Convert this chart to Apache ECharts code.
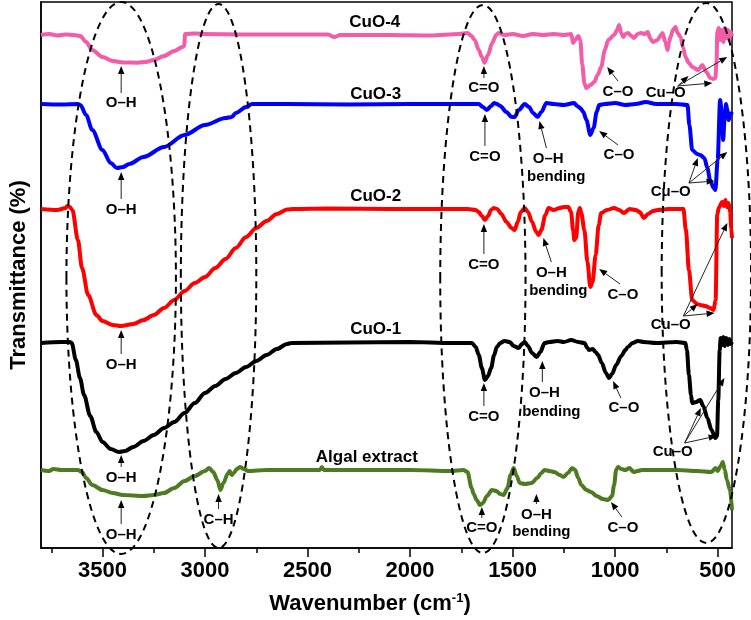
<!DOCTYPE html>
<html>
<head>
<meta charset="utf-8">
<script src="https://cdn.jsdelivr.net/npm/echarts@6/dist/echarts.min.js"></script>
<style>
html, body { margin: 0; padding: 0; background: #fff; }
#ftirChart { width: 751px; height: 620px; }
</style>
</head>
<body>
<div id="ftirChart"></div>
<script>
var FONT = '"Liberation Sans", Arial, Helvetica, sans-serif';

// tick positions (cm-1)
var majorTicks = [500, 1000, 1500, 2000, 2500, 3000, 3500];
var minorTicks = [750, 1250, 1750, 2250, 2750, 3250, 3750];

// spectra: [wavenumber, transmittance (arbitrary, stacked)]
var cuo4 = [[3800,513],[3760,514],[3720,512.5],[3680,513.5],[3640,513],[3608,512],[3580,506],[3550,498],[3500,491],[3450,487],[3400,485.5],[3330,485.3],[3290,486],[3250,488],[3200,492],[3150,497],[3110,501],[3102,502],[3097,514],[3050,514.5],[3000,514],[2800,513.5],[2600,513.5],[2400,513.5],[2370,511],[2340,513],[2100,513],[1900,512.5],[1760,514],[1720,515],
  [1700,512],[1685,508],[1665,498],[1650,491],[1637,485.3],[1620,493],[1600,505],[1580,513],[1569,515],[1540,513],[1500,514],[1450,512],[1400,514],[1350,513],[1300,514],[1250,513],[1214,514],[1205,505],[1195,508],[1180,512],[1170,508],[1160,483],[1150,465],[1141,460],[1120,463],[1102,466],[1085,473],[1068,481],[1050,498],[1034,508],[1005,513],[990,518],[981,523],[970,515],[961,511],[950,514],[938,515],[920,512],[909,510],[890,514],[875,515],[855,514],[841,516],[830,510],[817,506],[805,507],[793,508],[780,512],[769,515],[755,506],[744,498],[737,506],[730,511],[718,518],[706,521],[695,515],[681,511],[668,500],[657,491],[640,485],[624,481],[594,478],[575,483],[555,476],[536,470],[520,469],[511,470],[505,488],[502,515],[495,520],[488,508],[480,518],[472,506],[465,520],[458,510],[450,518],[443,508],[436,516],[430,512]];

var cuo3 = [[3800,444],[3700,443.5],[3620,444],[3608,443],[3580,433],[3550,418],[3500,398],[3460,385],[3430,380],[3400,381],[3370,384],[3300,391],[3200,401],[3100,413],[3000,423],[2900,430],[2870,431],[2850,435],[2800,441],[2770,444],[2600,444],[2300,443.5],[2000,444],[1720,444],
  [1665,444],[1645,441],[1626,438],[1605,442],[1590,445],[1577,444],[1560,442],[1530,436],[1505,431],[1490,431],[1470,438],[1441,444],[1420,441],[1400,435],[1378,431],[1360,436],[1335,445],[1300,444],[1250,443],[1200,445],[1185,442],[1170,440],[1155,436],[1140,428],[1121,413],[1105,420],[1090,436],[1078,443],[1050,444],[1000,445],[950,443],[900,444],[850,446],[800,444],[700,444],[647,443],[638,423],[624,398],[600,394],[585,393],[565,390],[550,380],[537,368],[520,360],[511,358],[500,388],[488,448],[480,436],[473,408],[466,430],[459,444],[453,438],[446,428],[439,433],[430,436]];

var cuo2 = [[3800,339],[3720,338],[3680,340],[3672,342],[3660,341],[3647,338],[3620,308],[3600,280],[3570,253],[3530,233],[3500,227],[3450,223],[3410,222],[3350,224],[3300,228],[3250,233],[3200,240],[3150,248],[3100,257],[3050,265],[3000,271],[2950,280],[2900,289],[2850,300],[2800,311],[2750,320],[2700,327],[2650,334],[2600,338.5],[2570,339],[2400,339.5],[2100,339],[1900,339],[1720,339],
  [1680,338],[1665,336],[1650,332],[1635,328],[1620,332],[1605,338],[1592,340],[1575,339],[1555,334],[1530,326],[1505,320],[1490,318],[1475,326],[1460,336],[1441,340],[1425,336],[1405,326],[1385,316],[1373,313],[1360,318],[1340,333],[1325,340],[1300,338],[1270,340],[1250,341],[1228,341],[1215,336],[1205,318],[1199,308],[1190,310],[1180,336],[1172,340],[1165,335],[1150,318],[1135,286],[1121,261],[1110,266],[1095,293],[1080,323],[1068,335],[1040,338],[1005,340],[980,338],[957,335],[930,339],[900,338],[880,336],[860,330],[840,334],[815,337],[793,338],[740,339],[700,339],[667,339],[655,318],[640,278],[624,248],[600,244],[585,243],[560,242],[537,240],[520,238],[510,248],[502,333],[495,340],[478,346],[470,342],[462,348],[455,341],[447,345],[439,336],[434,320],[430,310]];

var cuo1 = [[3800,205],[3700,206],[3660,206],[3650,205],[3630,188],[3610,170],[3590,153],[3560,132],[3530,116],[3500,106],[3460,99],[3420,96],[3390,97],[3350,101],[3300,107],[3250,113],[3200,120],[3150,126],[3100,135],[3050,145],[3000,155],[2950,162],[2900,169],[2850,175],[2800,181],[2750,187],[2700,193],[2650,199],[2600,204],[2580,205],[2300,205.5],[2000,206],[1800,205],[1720,205],
  [1698,205],[1680,201],[1665,193],[1650,180],[1635,168],[1620,172],[1605,180],[1590,193],[1577,201],[1560,205],[1540,207],[1514,206],[1495,202],[1470,200],[1455,204],[1441,206],[1425,202],[1405,195],[1383,191],[1365,196],[1344,205],[1320,206],[1280,207],[1250,206],[1214,208],[1180,206],[1150,205],[1135,200],[1127,198],[1110,199],[1095,196],[1083,193],[1065,185],[1045,175],[1030,170],[1015,174],[995,183],[970,192],[950,198],[938,201],[915,205],[889,207],[860,206],[800,205],[700,206],[657,205],[650,198],[640,173],[630,153],[624,145],[605,146],[585,148],[570,142],[550,130],[530,118],[511,110],[503,112],[497,148],[490,198],[485,210],[478,203],[472,211],[465,202],[458,210],[450,203],[443,209],[436,204],[430,206]];

var algal = [[3800,78],[3760,77],[3740,79],[3700,78],[3620,78],[3600,76],[3580,70],[3550,63],[3500,58],[3450,55],[3400,53],[3300,52],[3250,53],[3200,55],[3150,60],[3100,67],[3050,72],[3000,77],[2980,80],[2960,76],[2940,68],[2925,58],[2910,65],[2890,74],[2880,77],[2870,73],[2860,75],[2845,79],[2830,81],[2810,79],[2790,77],[2700,78],[2440,78],[2430,81],[2420,78],[2200,78],[2000,78],[1800,77],[1740,78],
  [1720,76],[1700,60],[1690,54],[1675,48],[1660,43],[1645,45],[1625,52],[1601,58],[1580,57],[1560,54],[1544,53],[1525,60],[1510,73],[1495,80],[1480,72],[1465,65],[1440,64],[1407,65],[1380,70],[1360,75],[1344,78],[1320,77],[1296,76],[1270,73],[1252,71],[1230,75],[1210,80],[1195,78],[1180,70],[1165,63],[1140,58],[1117,56],[1090,52],[1060,49],[1034,48],[1015,52],[1005,63],[995,78],[986,81],[970,79],[950,78],[930,80],[910,76],[890,77],[870,78],[800,78],[700,78],[600,77],[530,76],[510,80],[500,77],[485,82],[475,86],[465,78],[455,68],[440,58],[430,38]];

var seriesNames = ['CuO-4', 'CuO-3', 'CuO-2', 'CuO-1', 'Algal extract'];
var seriesColors = ['#f25ca8', '#0000ff', '#ff0000', '#000000', '#4e7a22'];
var seriesData = [cuo4, cuo3, cuo2, cuo1, algal];

// annotation layout, in data units: [text, wavenumber, value]
var nameLabels = [['CuO-4', 2172, 526], ['CuO-3', 2168, 454], ['CuO-2', 2168, 352], ['CuO-1', 2168, 219], ['Algal extract', 2211, 91]];
var bandLabels = [
  ['O–H', 3409, 445], ['O–H', 3409, 338], ['O–H', 3409, 183], ['O–H', 3409, 70], ['O–H', 3409, 13], ['C–H', 2934, 28],
  ['C=O', 1640, 460], ['C=O', 1635, 391], ['C=O', 1640, 283], ['C=O', 1640, 131], ['C=O', 1650, 20],
  ['O–H', 1326, 389], ['bending', 1287, 371], ['O–H', 1311, 275], ['bending', 1277, 257],
  ['O–H', 1345, 155], ['bending', 1311, 136], ['O–H', 1384, 33], ['bending', 1360, 16],
  ['C–O', 986, 456], ['C–O', 981, 393], ['C–O', 962, 253], ['C–O', 957, 140], ['C–O', 962, 20],
  ['Cu–O', 753, 455], ['Cu–O', 729, 356], ['Cu–O', 729, 223], ['Cu–O', 719, 96]
];
// arrows: [tailW, tailV, headW, headV]
var bandArrows = [
  [3409, 455, 3409, 482], [3409, 349, 3409, 376], [3409, 194, 3409, 218], [3409, 81, 3409, 93], [3409, 24, 3409, 48],
  [2934, 39, 2934, 54],
  [1640, 470, 1640, 482], [1635, 402, 1635, 434], [1640, 294, 1640, 324], [1640, 142, 1640, 165], [1650, 30, 1650, 41],
  [1335, 400, 1369, 427], [1311, 286, 1350, 310], [1355, 166, 1355, 187], [1384, 44, 1384, 54],
  [986, 467, 1039, 481], [986, 403, 1078, 417], [976, 264, 1078, 279], [972, 150, 1010, 167], [967, 31, 1020, 46],
  [695, 462, 642, 472], [695, 462, 526, 465], [695, 462, 453, 491],
  [640, 365, 597, 390], [640, 365, 515, 367], [640, 365, 453, 396],
  [667, 232, 597, 244], [667, 232, 515, 235], [667, 232, 453, 325],
  [661, 105, 582, 140], [661, 105, 505, 112], [661, 105, 467, 170]
];
// dashed ellipses: [centerW, centerV, radiusW, radiusV]
var regions = [[3409, 270, 267, 276], [2934, 272, 184, 272], [1645, 269, 208, 274], [555, 275, 218, 270]];

var box = echarts.init(document.getElementById('ftirChart'));

var option = {
    animation: false,
    grid: {
        left: 36,
        right: 19,
        top: 2,
        bottom: 72,
        show: true,
        borderColor: '#000',
        borderWidth: 1.5
    },
    xAxis: [
        {
            type: 'value',
            min: 430,
            max: 3800,
            inverse: true,
            axisLine: { lineStyle: { color: '#000', width: 1.5 } },
            axisTick: { customValues: majorTicks, length: 9, lineStyle: { color: '#000', width: 1.5 } },
            axisLabel: {
                customValues: majorTicks,
                formatter: function (v) { return String(v); },
                color: '#000',
                fontSize: 22,
                fontWeight: 'bold',
                fontFamily: FONT,
                margin: 12
            },
            splitLine: { show: false }
        },
        {
            type: 'value',
            min: 430,
            max: 3800,
            inverse: true,
            position: 'bottom',
            axisLine: { show: false },
            axisTick: { customValues: minorTicks, length: 5, lineStyle: { color: '#000', width: 1.5 } },
            axisLabel: { show: false },
            splitLine: { show: false }
        }
    ],
    yAxis: {
        type: 'value',
        min: 0,
        max: 546,
        name: 'Transmittance (%)',
        nameLocation: 'middle',
        nameGap: 11,
        nameTextStyle: { color: '#000', fontSize: 22, fontWeight: 'bold', fontFamily: FONT },
        axisLine: { show: true, lineStyle: { color: '#000', width: 1.5 } },
        axisTick: { show: false },
        axisLabel: { show: false },
        splitLine: { show: false }
    },
    series: seriesData.map(function (d, i) {
        return {
            name: seriesNames[i],
            type: 'line',
            data: d,
            showSymbol: false,
            smooth: 0.3,
            smoothMonotone: 'x',
            lineStyle: { color: seriesColors[i], width: 4 },
            itemStyle: { color: seriesColors[i] }
        };
    })
};
box.setOption(option);

function px(w, v) {
    return box.convertToPixel({ xAxisIndex: 0, yAxisIndex: 0 }, [w, v]);
}

function arrowShapes(t, h) {
    var dx = h[0] - t[0], dy = h[1] - t[1];
    var len = Math.sqrt(dx * dx + dy * dy);
    var ux = dx / len, uy = dy / len;
    var L = 8, W = 3.2;
    var bx = h[0] - ux * L, by = h[1] - uy * L;
    return [
        { type: 'line', z: 100, shape: { x1: t[0], y1: t[1], x2: bx, y2: by }, style: { stroke: '#222', lineWidth: 1 } },
        { type: 'polygon', z: 100, shape: { points: [h, [bx - uy * W, by + ux * W], [bx + uy * W, by - ux * W]] }, style: { fill: '#000' } }
    ];
}

var elements = [];

regions.forEach(function (r) {
    var c = px(r[0], r[1]);
    var e = px(r[0] + r[2], r[1] + r[3]);
    elements.push({
        type: 'ellipse',
        z: 100,
        shape: { cx: c[0], cy: c[1], rx: Math.abs(e[0] - c[0]), ry: Math.abs(e[1] - c[1]) },
        style: { fill: 'none', stroke: '#000', lineWidth: 2, lineDash: [7, 5] }
    });
});

bandArrows.forEach(function (a) {
    elements = elements.concat(arrowShapes(px(a[0], a[1]), px(a[2], a[3])));
});

function textEl(s, p, size) {
    return {
        type: 'text',
        z: 101,
        x: p[0],
        y: p[1],
        style: { text: s, font: 'bold ' + size + 'px ' + FONT, fill: '#000', align: 'center', verticalAlign: 'middle' }
    };
}

bandLabels.forEach(function (b) {
    elements.push(textEl(b[0], px(b[1], b[2]), 15));
});
nameLabels.forEach(function (b) {
    elements.push(textEl(b[0], px(b[1], b[2]), 17));
});

// x-axis title with superscript
elements.push({
    type: 'text',
    z: 101,
    x: 370,
    y: 604,
    style: {
        text: '{a|Wavenumber (cm}{s|-1}{a|)}',
        align: 'center',
        verticalAlign: 'middle',
        fill: '#000',
        rich: {
            a: { font: 'bold 22px ' + FONT, fill: '#000' },
            s: { font: 'bold 13px ' + FONT, fill: '#000', padding: [0, 0, 12, 0] }
        }
    }
});

box.setOption({ graphic: elements });
</script>
</body>
</html>
